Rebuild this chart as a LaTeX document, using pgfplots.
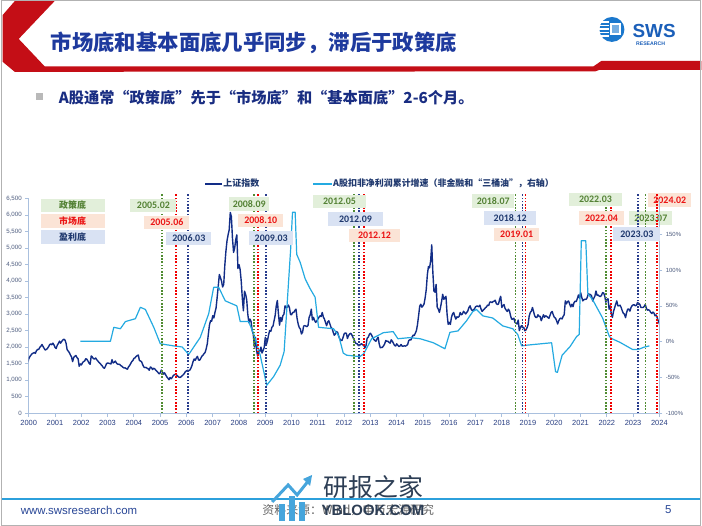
\documentclass[border=0pt]{standalone}
\usepackage{pgfplots}
\pgfplotsset{compat=1.18}
\usepackage{fontspec}
\setmainfont{Liberation Sans}
\newfontfamily\cjk{Noto Sans CJK SC}
\newfontfamily\carlito{Carlito}
\definecolor{sse}{RGB}{18,45,135}
\definecolor{lblue}{RGB}{36,170,225}
\definecolor{gtxt}{RGB}{84,130,53}
\definecolor{gfill}{RGB}{226,239,218}
\definecolor{rtxt}{RGB}{235,20,20}
\definecolor{rfill}{RGB}{251,228,214}
\definecolor{btxt}{RGB}{31,56,110}
\definecolor{bfill}{RGB}{217,226,243}
\definecolor{gline}{RGB}{80,140,50}
\definecolor{rline}{RGB}{240,0,0}
\definecolor{bline}{RGB}{40,60,140}
\definecolor{axcol}{RGB}{170,192,222}
\definecolor{xlab}{RGB}{40,62,130}
\definecolor{ylab}{RGB}{75,90,125}
\definecolor{ttl}{RGB}{30,58,158}
\definecolor{subc}{RGB}{25,45,130}
\definecolor{sred}{RGB}{196,14,22}
\definecolor{swsblue}{RGB}{27,120,205}
\definecolor{swstxt}{RGB}{27,95,185}
\definecolor{footline}{RGB}{44,160,220}
\definecolor{foottxt}{RGB}{40,70,150}
\definecolor{wm}{RGB}{45,62,85}
\definecolor{wmblue}{RGB}{70,165,220}
\tikzset{
  bx/.style={inner sep=0pt, minimum height=13.5bp, font=\carlito\bfseries\fontsize{10}{10}\selectfont},
  gbx/.style={bx, fill=gfill, text=gtxt},
  rbx/.style={bx, fill=rfill, text=rtxt},
  bbx/.style={bx, fill=bfill, text=btxt},
  gdot/.style={color=gline, line width=1.6bp, dash pattern=on 1.6bp off 1.6bp},
  rdot/.style={color=rline, line width=1.6bp, dash pattern=on 1.6bp off 1.6bp},
  bdot/.style={color=bline, line width=1.6bp, dash pattern=on 1.6bp off 1.6bp},
}
\pgfplotsset{
  base/.style={at={(28bp,-414bp)}, anchor=south west, scale only axis,
    width=632bp, height=215bp, xmin=2000, xmax=2024,
    /pgf/number format/assume math mode=true},
}
\begin{document}
\begin{tikzpicture}
\begin{scope}[x=1bp,y=-1bp]
\path[use as bounding box] (0,0) rectangle (702,527);
\fill[white] (0,0) rectangle (702,527);
% header red shape
\fill[sred] (15,0) -- (55,0) -- (18,39) -- (44,66.5) -- (594,66.5) -- (602,61) -- (702,61) -- (702,70) -- (600,70) -- (596,71.5) -- (14,72) -- (2,62) -- (2,15) -- cycle;
\node[anchor=west, inner sep=0, text=ttl, font=\cjk\bfseries\fontsize{21.5}{21.5}\selectfont] at (50,43) {市场底和基本面底几乎同步，滞后于政策底};
% logo
\fill[swsblue] (612.5,29.5) circle (12.5);
\foreach \yy in {21.5,25,28.5,32,35.5} {\fill[white] (600,\yy) rectangle (610,\yy+1.3);}
\fill[white] (610.5,23.5) rectangle (621.5,35.5);
\fill[swsblue!60] (612.5,25.5) rectangle (619.5,33.5);
\node[anchor=west, inner sep=0, text=swstxt, font=\bfseries\fontsize{19}{19}\selectfont] at (633,31) {SWS};
\node[anchor=west, inner sep=0, text=swstxt, font=\bfseries\fontsize{5.2}{5.2}\selectfont] at (636.5,44) {RESEARCH};
% subtitle
\fill[gray!55] (35,93) rectangle (42,100);
\node[anchor=west, inner sep=0, text=subc, font=\cjk\bfseries\fontsize{15.3}{15.3}\selectfont] at (58,97.5) {A股通常“政策底”先于“市场底”和“基本面底”2-6个月。};
% boxes under the dotted lines
\node[gbx, minimum width=43bp] at (651.5,218.5) {2023.07};
\node[rbx, minimum width=43bp] at (670.5,200.5) {2024.02};
\end{scope}

% ---------------- left axis: SSE index
\begin{axis}[base, ymin=0, ymax=6500,
  axis x line*=bottom, axis y line*=left,
  axis line style={axcol, line width=0.9bp},
  xtick={2000,2001,...,2024}, ytick={0,500,...,6500},
  tick style={axcol, line width=0.7bp}, major tick length=3.5bp, tick align=outside,
  x tick label style={font=\fontsize{7.5}{8}\selectfont, text=xlab, /pgf/number format/1000 sep={}},
  y tick label style={font=\fontsize{6.2}{7}\selectfont, text=ylab, /pgf/number format/1000 sep={,}},
]
\addplot[sse, line width=1.4bp, line join=round] table[x expr=2000-0.12+(\coordindex+1)/24, y=v, row sep=\\] {
v\\
1420\\1535\\1650\\1714\\1760\\1800\\1820\\1836\\1810\\1894\\1930\\1928\\1990\\2023\\2080\\2021\\1960\\1910\\1930\\1961\\2010\\2070\\2100\\2073\\
2120\\2065\\1990\\1959\\2060\\2112\\2180\\2119\\2170\\2214\\2240\\2218\\2120\\1920\\1880\\1834\\1760\\1704\\1560\\1690\\1720\\1747\\1680\\1646\\
1420\\1491\\1460\\1525\\1560\\1580\\1650\\1632\\1580\\1515\\1480\\1732\\1700\\1651\\1640\\1671\\1620\\1581\\1540\\1507\\1470\\1435\\1380\\1358\\
1420\\1500\\1520\\1511\\1500\\1490\\1620\\1521\\1540\\1576\\1520\\1487\\1480\\1477\\1440\\1421\\1390\\1367\\1370\\1348\\1330\\1397\\1440\\1497\\
1560\\1590\\1660\\1675\\1720\\1742\\1760\\1595\\1580\\1555\\1470\\1399\\1380\\1386\\1360\\1342\\1300\\1396\\1380\\1320\\1360\\1340\\1300\\1266\\
1230\\1191\\1220\\1306\\1250\\1181\\1220\\1159\\1100\\1060\\1010\\1080\\1040\\1083\\1140\\1162\\1180\\1155\\1120\\1092\\1080\\1099\\1130\\1161\\
1200\\1258\\1280\\1299\\1290\\1298\\1360\\1440\\1560\\1641\\1600\\1672\\1720\\1612\\1600\\1658\\1720\\1752\\1800\\1837\\1950\\2099\\2400\\2675\\
2800\\2786\\2950\\2881\\3050\\3183\\3500\\3841\\4200\\4109\\4000\\3820\\3900\\4471\\4900\\5218\\5400\\5552\\6080\\5954\\5300\\4871\\5000\\5262\\
5400\\4383\\4500\\4348\\4000\\3473\\3100\\3693\\3600\\3433\\3000\\2736\\2850\\2775\\2500\\2397\\2000\\2293\\1900\\1729\\1900\\1871\\2000\\1821\\
1900\\1991\\2300\\2082\\2200\\2373\\2500\\2477\\2600\\2633\\2800\\2959\\3250\\3412\\3000\\2667\\2900\\2779\\2950\\2996\\3250\\3195\\3200\\3277\\
3200\\2989\\2980\\3051\\3050\\3110\\3150\\2871\\2700\\2592\\2550\\2398\\2450\\2638\\2650\\2639\\2620\\2656\\2900\\2979\\3150\\2820\\2900\\2808\\
2750\\2791\\2850\\2905\\2950\\2928\\3050\\2911\\2850\\2743\\2650\\2762\\2800\\2701\\2600\\2568\\2450\\2359\\2400\\2469\\2450\\2333\\2250\\2199\\
2200\\2292\\2400\\2428\\2420\\2262\\2350\\2397\\2420\\2373\\2300\\2225\\2150\\2103\\2100\\2047\\2050\\2086\\2100\\2069\\2050\\1980\\2050\\2269\\
2300\\2385\\2420\\2366\\2300\\2237\\2200\\2178\\2250\\2301\\2100\\1979\\1990\\1994\\2040\\2098\\2200\\2175\\2180\\2142\\2120\\2221\\2180\\2116\\
2050\\2033\\2100\\2056\\2020\\2033\\2080\\2026\\2030\\2039\\2030\\2048\\2080\\2202\\2220\\2217\\2300\\2364\\2350\\2420\\2500\\2683\\2950\\3235\\
3300\\3210\\3250\\3310\\3500\\3748\\4200\\4441\\4400\\4612\\5100\\4277\\3700\\3664\\3900\\3206\\3150\\3053\\3200\\3383\\3600\\3445\\3500\\3539\\
3000\\2690\\2750\\2688\\2900\\3004\\3050\\2938\\2850\\2917\\2900\\2930\\3050\\2979\\3000\\3085\\3050\\3005\\3050\\3100\\3200\\3250\\3150\\3104\\
3120\\3159\\3220\\3242\\3240\\3223\\3270\\3155\\3080\\3117\\3150\\3192\\3220\\3273\\3260\\3361\\3370\\3349\\3380\\3393\\3420\\3317\\3290\\3307\\
3450\\3540\\3200\\3259\\3290\\3169\\3120\\3082\\3150\\3095\\2950\\2847\\2850\\2876\\2750\\2725\\2700\\2821\\2500\\2603\\2650\\2588\\2600\\2494\\
2520\\2585\\2680\\2941\\3050\\3091\\3200\\3078\\2950\\2899\\2900\\2979\\2930\\2933\\2800\\2886\\2980\\2905\\2950\\2929\\2900\\2872\\2960\\3050\\
3080\\2977\\2900\\2880\\2800\\2700\\2800\\2860\\2880\\2852\\2930\\2985\\3400\\3310\\3380\\3396\\3300\\3218\\3300\\3225\\3350\\3392\\3380\\3473\\
3580\\3483\\3650\\3509\\3400\\3442\\3450\\3447\\3500\\3615\\3600\\3591\\3550\\3397\\3480\\3544\\3700\\3568\\3580\\3547\\3530\\3564\\3650\\3640\\
3550\\3361\\3450\\3462\\3150\\3252\\3000\\2900\\3080\\3186\\3300\\3399\\3250\\3253\\3270\\3202\\3100\\3024\\3000\\2893\\3050\\3151\\3150\\3089\\
3200\\3256\\3280\\3280\\3250\\3273\\3350\\3323\\3300\\3205\\3200\\3202\\3230\\3291\\3180\\3120\\3130\\3110\\3050\\3018\\3060\\3030\\2950\\2975\\
2880\\2789\\2700\\3015\\
};
\end{axis}

% ---------------- right axis: profit growth
\begin{axis}[base, ymin=-100, ymax=200,
  axis x line=none, axis y line*=right,
  axis line style={axcol, line width=0.9bp},
  ytick={-100,-50,0,50,100,150},
  yticklabels={-100\%,-50\%,0\%,50\%,100\%,150\%},
  tick style={axcol, line width=0.7bp}, major tick length=3bp, tick align=outside,
  y tick label style={font=\fontsize{6}{7}\selectfont, text=ylab},
]
\addplot[lblue, line width=1.2bp, line join=round] coordinates {
(2001.97,0.5) (2003.11,0.5) (2003.24,20) (2003.49,18) (2003.68,28) (2004.06,32) (2004.25,48) (2004.44,45)
(2004.76,20) (2005.01,-3) (2005.52,-6) (2005.84,-7.5) (2006.09,-18) (2006.2,-12) (2006.53,6) (2006.85,39)
(2007.04,76) (2007.23,76) (2007.48,57) (2007.92,50) (2008.05,28) (2008.37,28) (2008.56,11) (2008.81,-19)
(2009.06,-61) (2009.32,-49) (2009.57,-33) (2009.72,-14) (2009.97,130) (2010.04,181) (2010.14,181) (2010.20,122)
(2010.33,111) (2010.52,88) (2010.71,74) (2010.90,62) (2011.03,20) (2011.6,18) (2011.8,8) (2011.97,-16)
(2012.1,-19) (2012.6,-21) (2012.75,-17) (2013.05,4) (2013.5,12.5) (2013.87,14) (2014.05,4) (2014.5,5.6)
(2014.9,4) (2015.4,-1.6) (2015.84,-10) (2016.03,13) (2016.34,15) (2016.66,29) (2016.9,42) (2017.04,45)
(2017.28,36) (2017.66,33) (2018.04,22) (2018.42,18) (2018.61,10) (2018.76,-6) (2018.95,-5) (2019.9,-1.6)
(2020.05,-42) (2020.12,-43) (2020.3,-19) (2020.6,-7) (2020.85,7) (2020.95,10) (2021.03,141) (2021.2,141)
(2021.28,67) (2021.47,58) (2021.84,33) (2022.1,7) (2022.2,4) (2022.5,-1) (2022.98,-11) (2023.2,-11)
(2023.4,-8) (2023.62,-6)
};
\end{axis}

% ---------------- dotted bottom lines
\begin{axis}[base, ymin=0, ymax=6500, hide axis, clip=false]
\addplot[gdot] coordinates {(2005.08,0) (2005.08,6650)};
\addplot[gdot] coordinates {(2008.58,0) (2008.58,6650)};
\addplot[gdot] coordinates {(2012.38,0) (2012.38,6650)};
\addplot[gdot] coordinates {(2018.52,0) (2018.52,6650)};
\addplot[gdot] coordinates {(2021.98,0) (2021.98,6650)};
\addplot[gdot] coordinates {(2023.47,0) (2023.47,6650)};
\addplot[rdot] coordinates {(2005.61,0) (2005.61,6650)};
\addplot[rdot] coordinates {(2008.72,0) (2008.72,6650)};
\addplot[rdot] coordinates {(2012.77,0) (2012.77,6650)};
\addplot[rdot] coordinates {(2018.91,0) (2018.91,6650)};
\addplot[rdot] coordinates {(2022.17,0) (2022.17,6650)};
\addplot[rdot] coordinates {(2023.92,0) (2023.92,6650)};
\addplot[bdot] coordinates {(2006.06,0) (2006.06,6650)};
\addplot[bdot] coordinates {(2009.03,0) (2009.03,6650)};
\addplot[bdot] coordinates {(2012.57,0) (2012.57,6650)};
\addplot[bdot] coordinates {(2018.79,0) (2018.79,6650)};
\addplot[bdot] coordinates {(2023.18,0) (2023.18,6650)};
\end{axis}

\begin{scope}[x=1bp,y=-1bp]
% legend
\draw[sse, line width=2bp] (205,184) -- (222,184);
\node[anchor=west, inner sep=0, text=btxt, font=\cjk\bfseries\fontsize{9}{9}\selectfont] at (223,184) {上证指数};
\draw[lblue, line width=2bp] (313,184) -- (332,184);
\node[anchor=west, inner sep=0, text=btxt, font=\cjk\bfseries\fontsize{9}{9}\selectfont] at (333,184) {A股扣非净利润累计增速（非金融和“三桶油”，右轴）};
% key boxes
\node[bx, fill=gfill, text=gtxt, minimum width=64bp, font=\cjk\bfseries\fontsize{9}{9}\selectfont] at (72,206) {政策底};
\node[bx, fill=rfill, text=rtxt, minimum width=64bp, font=\cjk\bfseries\fontsize{9}{9}\selectfont] at (72,221.5) {市场底};
\node[bx, fill=bfill, text=btxt, minimum width=64bp, font=\cjk\bfseries\fontsize{9}{9}\selectfont] at (72,237.5) {盈利底};
% date boxes
\node[gbx, minimum width=46bp] at (153,206) {2005.02};
\node[rbx, minimum width=45bp] at (166.5,223) {2005.06};
\node[bbx, minimum width=45bp] at (188.5,239) {2006.03};
\node[gbx, minimum width=40bp] at (249,204.5) {2008.09};
\node[rbx, minimum width=45bp] at (260.5,221) {2008.10};
\node[bbx, minimum width=44bp] at (271,238.5) {2009.03};
\node[gbx, minimum width=54bp] at (339.5,202) {2012.05};
\node[bbx, minimum width=55bp] at (355.5,219.5) {2012.09};
\node[rbx, minimum width=51bp] at (374.5,236) {2012.12};
\node[gbx, minimum width=42bp] at (493.5,201.5) {2018.07};
\node[bbx, minimum width=52bp] at (510.5,218.5) {2018.12};
\node[rbx, minimum width=45bp] at (517,235) {2019.01};
\node[gbx, minimum width=53bp] at (596,200) {2022.03};
\node[rbx, minimum width=46bp] at (602,218.5) {2022.04};
\node[bbx, minimum width=47bp] at (637.5,234.5) {2023.03};
% footer
\draw[footline, line width=1.5bp] (0,500) -- (702,500);
\node[anchor=west, inner sep=0, text=foottxt, font=\fontsize{11.5}{11.5}\selectfont] at (20,511) {www.swsresearch.com};
\node[anchor=west, inner sep=0, text=gray!80!black, font=\cjk\fontsize{12}{12}\selectfont] at (262,511) {资料来源：Wind，申万宏源研究};
\node[anchor=center, inner sep=0, text=foottxt, font=\fontsize{11.5}{11.5}\selectfont] at (669,511) {5};
% watermark
\fill[wmblue] (279,505) rectangle (285,522);
\fill[wmblue] (289,497) rectangle (295,522);
\fill[wmblue] (299,503) rectangle (305,522);
\draw[wmblue, line width=3bp] (272,503) -- (288,486) -- (297,496) -- (309,481);
\fill[wmblue] (312,476) -- (303,480) -- (310,487) -- cycle;
\node[anchor=center, inner sep=0, text=wm, font=\cjk\fontsize{25}{25}\selectfont] at (373.5,488.5) {研报之家};
\node[anchor=center, inner sep=0, text=wm, font=\bfseries\fontsize{15}{15}\selectfont] at (373,511) {YBLOOK.COM};
% frame
\draw[gray!60, line width=1.2bp] (0.6,0.6) rectangle (701.4,526.4);
\end{scope}
\end{tikzpicture}
\end{document}
